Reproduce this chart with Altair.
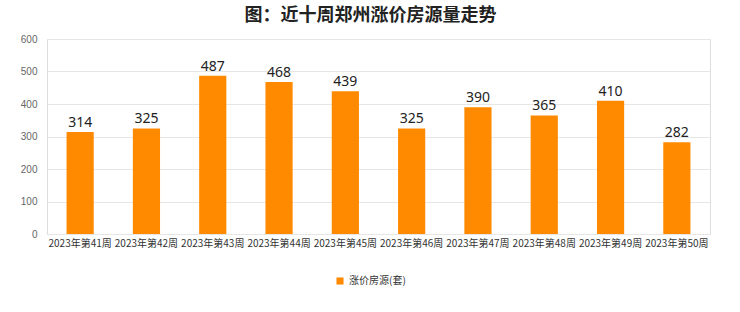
import altair as alt
import pandas as pd

weeks = ["2023年第41周", "2023年第42周", "2023年第43周", "2023年第44周", "2023年第45周",
         "2023年第46周", "2023年第47周", "2023年第48周", "2023年第49周", "2023年第50周"]
values = [314, 325, 487, 468, 439, 325, 390, 365, 410, 282]
series = ["涨价房源(套)"] * len(weeks)

df = pd.DataFrame({"week": weeks, "value": values, "series": series})

base = alt.Chart(df).encode(
    x=alt.X("week:N", sort=weeks, title=None,
            scale=alt.Scale(paddingInner=0.59, paddingOuter=0.295),
            axis=alt.Axis(labelAngle=0, labelFontSize=10, labelColor="#333", labelPadding=4,
                          ticks=False, domain=False, grid=False, labelFont="Noto Sans CJK SC")),
    y=alt.Y("value:Q", title=None,
            scale=alt.Scale(domain=[0, 600]),
            axis=alt.Axis(values=[0, 100, 200, 300, 400, 500, 600], labelFontSize=10,
                          labelColor="#666", ticks=False, domain=False, gridColor="#e6e6e6",
                          labelPadding=10)),
)

bars = base.mark_bar(color="#ff8a00").encode(
    color=alt.Color("series:N", scale=alt.Scale(range=["#ff8a00"]), title=None,
                    legend=alt.Legend(orient="none", legendX=288, legendY=237,
                                      symbolType="square", symbolSize=50, labelFontSize=10,
                                      labelColor="#333", labelFont="Noto Sans CJK SC")))

labels = base.mark_text(dy=-9, fontSize=14, color="#222", font="Noto Sans").encode(
    text="value:Q")

chart = (bars + labels).properties(
    width=663, height=195,
    title=alt.TitleParams("图：近十周郑州涨价房源量走势", fontSize=18, fontWeight="bold",
                          color="#222", font="Noto Sans CJK SC", anchor="middle", dx=-8,
                          offset=9),
    autosize=alt.AutoSizeParams(type="none"),
    padding={"left": 47, "top": 39, "right": 30, "bottom": 78},
).configure_view(stroke="#dddddd").configure(background="white")

chart.save("out.html", embed_options={"renderer": "svg", "actions": False})
